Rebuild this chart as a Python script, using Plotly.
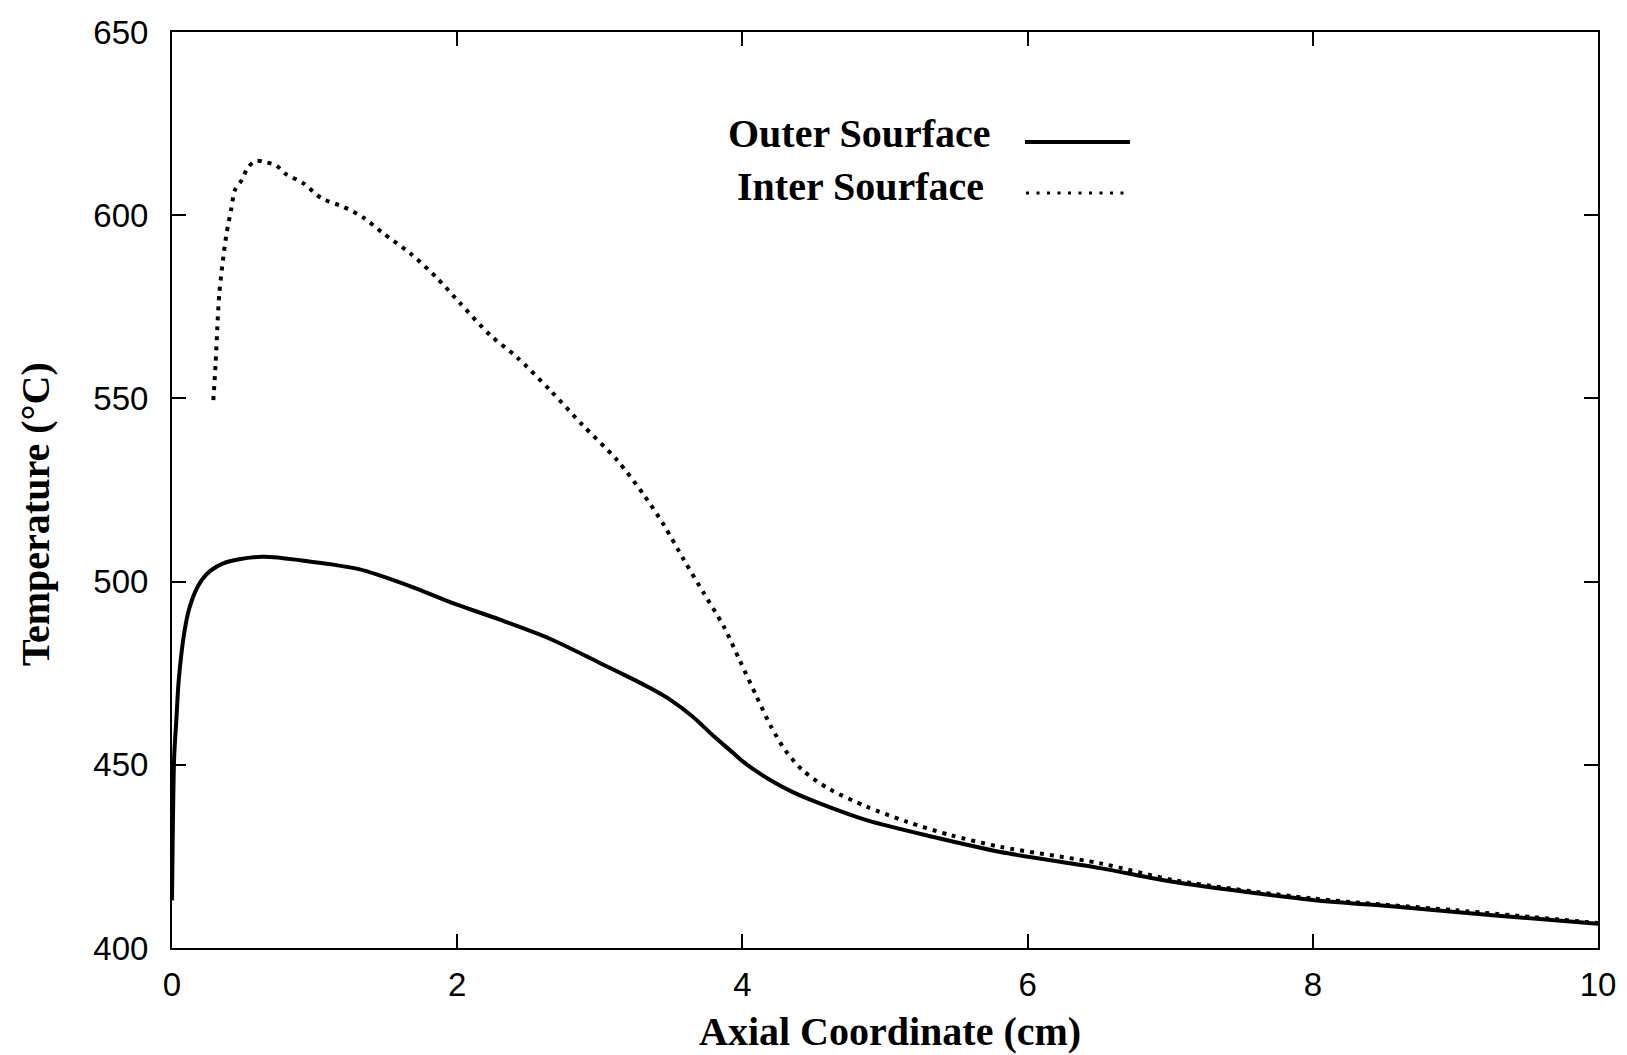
import plotly.graph_objects as go

# ---- data ----
outer_x = [0.0, 0.005, 0.015, 0.03, 0.045, 0.065, 0.09, 0.12, 0.16, 0.21, 0.27, 0.36, 0.471,
           0.633, 0.74, 0.90, 1.12, 1.31, 1.44, 1.7, 1.95, 2.3, 2.65, 3.0, 3.2, 3.35, 3.5, 3.65,
           3.8, 3.93, 4.0, 4.1, 4.2, 4.35, 4.52, 4.87, 5.34, 5.81, 6.51, 7.03, 8.0, 8.61, 9.3, 10.0]
outer_y = [413, 430, 452, 462, 472, 480, 487, 492.5, 497, 500.5, 503, 505, 506.1,
           506.8, 506.6, 505.8, 504.7, 503.4, 501.9, 498.3, 494.4, 489.6, 484.4, 477.8, 474.0, 471.0, 467.6, 463.2,
           457.8, 453.4, 451.0, 448.2, 445.7, 442.6, 439.8, 434.9, 430.3, 426.2, 421.8, 418.0, 413.1, 411.2, 408.8, 406.6]

inter_x = [0.29, 0.306, 0.318, 0.332, 0.36, 0.383, 0.414, 0.442, 0.489, 0.535, 0.589, 0.664,
           0.734, 0.792, 0.921, 1.05, 1.20, 1.34, 1.48, 1.67, 1.86, 2.02, 2.23, 2.42, 2.65,
           2.88, 3.12, 3.31, 3.45, 3.59, 3.73, 3.87, 3.98, 4.10, 4.20, 4.30, 4.42, 4.60,
           4.87, 5.15, 5.46, 5.81, 6.51, 7.03, 8.0, 9.0, 10.0]
inter_y = [549.5, 559.6, 569.6, 578.7, 588.7, 595.1, 601.4, 606.9, 609.6, 613.2, 614.8, 614.4,
           613.5, 611.4, 608.7, 604.6, 602.3, 599.4, 595.1, 589.6, 582.8, 576.0, 567.3, 561.2, 552.3,
           542.7, 533.2, 523.6, 515.4, 505.9, 496.8, 487.7, 478.6, 468.6, 460.5, 454.0, 448.6, 443.6,
           438.6, 434.5, 430.8, 427.6, 423.1, 418.5, 413.5, 410.3, 406.8]

series_names = ["Outer Sourface", "Inter Sourface"]
x_title = "Axial Coordinate (cm)"
y_title = "Temperature (°C)"
x_ticks = [0, 2, 4, 6, 8, 10]
y_ticks = [400, 450, 500, 550, 600, 650]

SERIF = "Liberation Serif, Times New Roman, serif"
SANS = "Liberation Sans, Arial, sans-serif"

fig = go.Figure()
fig.add_trace(go.Scatter(x=outer_x, y=outer_y, mode="lines", name=series_names[0],
                         line=dict(color="black", width=4, shape="spline", smoothing=0.8),
                         showlegend=False))
fig.add_trace(go.Scatter(x=inter_x, y=inter_y, mode="lines", name=series_names[1],
                         line=dict(color="black", width=4, dash="4px,6px", shape="spline", smoothing=0.8),
                         showlegend=False))

W, H = 1627, 1055
L, R, T, B = 172, 29, 32, 107
pw, ph = W - L - R, H - T - B

def px(xp):
    return (xp - L) / pw

def py(yp):
    return (H - B - yp) / ph

# legend (text, then the sample line to its right)
fig.add_annotation(text=series_names[0], xref="paper", yref="paper", x=px(993), y=py(133),
                   xanchor="right", yanchor="middle", showarrow=False,
                   font=dict(family=SERIF, size=40, color="black", weight="bold"))
fig.add_annotation(text=series_names[1], xref="paper", yref="paper", x=px(986), y=py(186),
                   xanchor="right", yanchor="middle", showarrow=False,
                   font=dict(family=SERIF, size=40, color="black", weight="bold"))
fig.add_shape(type="line", xref="paper", yref="paper", x0=px(1025), x1=px(1130), y0=py(142), y1=py(142),
              line=dict(color="black", width=4))
fig.add_shape(type="line", xref="paper", yref="paper", x0=px(1026), x1=px(1130), y0=py(193), y1=py(193),
              line=dict(color="black", width=3, dash="3px,7.5px"))

# axis titles
fig.add_annotation(text=x_title, xref="paper", yref="paper", x=px(890), y=py(1031),
                   xanchor="center", yanchor="middle", showarrow=False,
                   font=dict(family=SERIF, size=40, color="black", weight="bold"))
fig.add_annotation(text=y_title, xref="paper", yref="paper", x=px(35), y=py(514),
                   xanchor="center", yanchor="middle", showarrow=False, textangle=-90,
                   font=dict(family=SERIF, size=40, color="black", weight="bold"))

axis_common = dict(showline=True, linecolor="black", linewidth=2, mirror="ticks",
                   ticks="inside", ticklen=14, tickwidth=2, tickcolor="black",
                   showgrid=False, zeroline=False,
                   tickfont=dict(family=SANS, size=33, color="black"))

fig.update_xaxes(range=[0, 10], tickvals=x_ticks, ticklabelstandoff=6, **axis_common)
fig.update_yaxes(range=[400, 650], tickvals=y_ticks, ticklabelstandoff=15, **axis_common)

fig.update_layout(width=W, height=H, margin=dict(l=L, r=R, t=T, b=B, pad=0),
                  paper_bgcolor="white", plot_bgcolor="white", showlegend=False)

fig.write_html("out.html")
